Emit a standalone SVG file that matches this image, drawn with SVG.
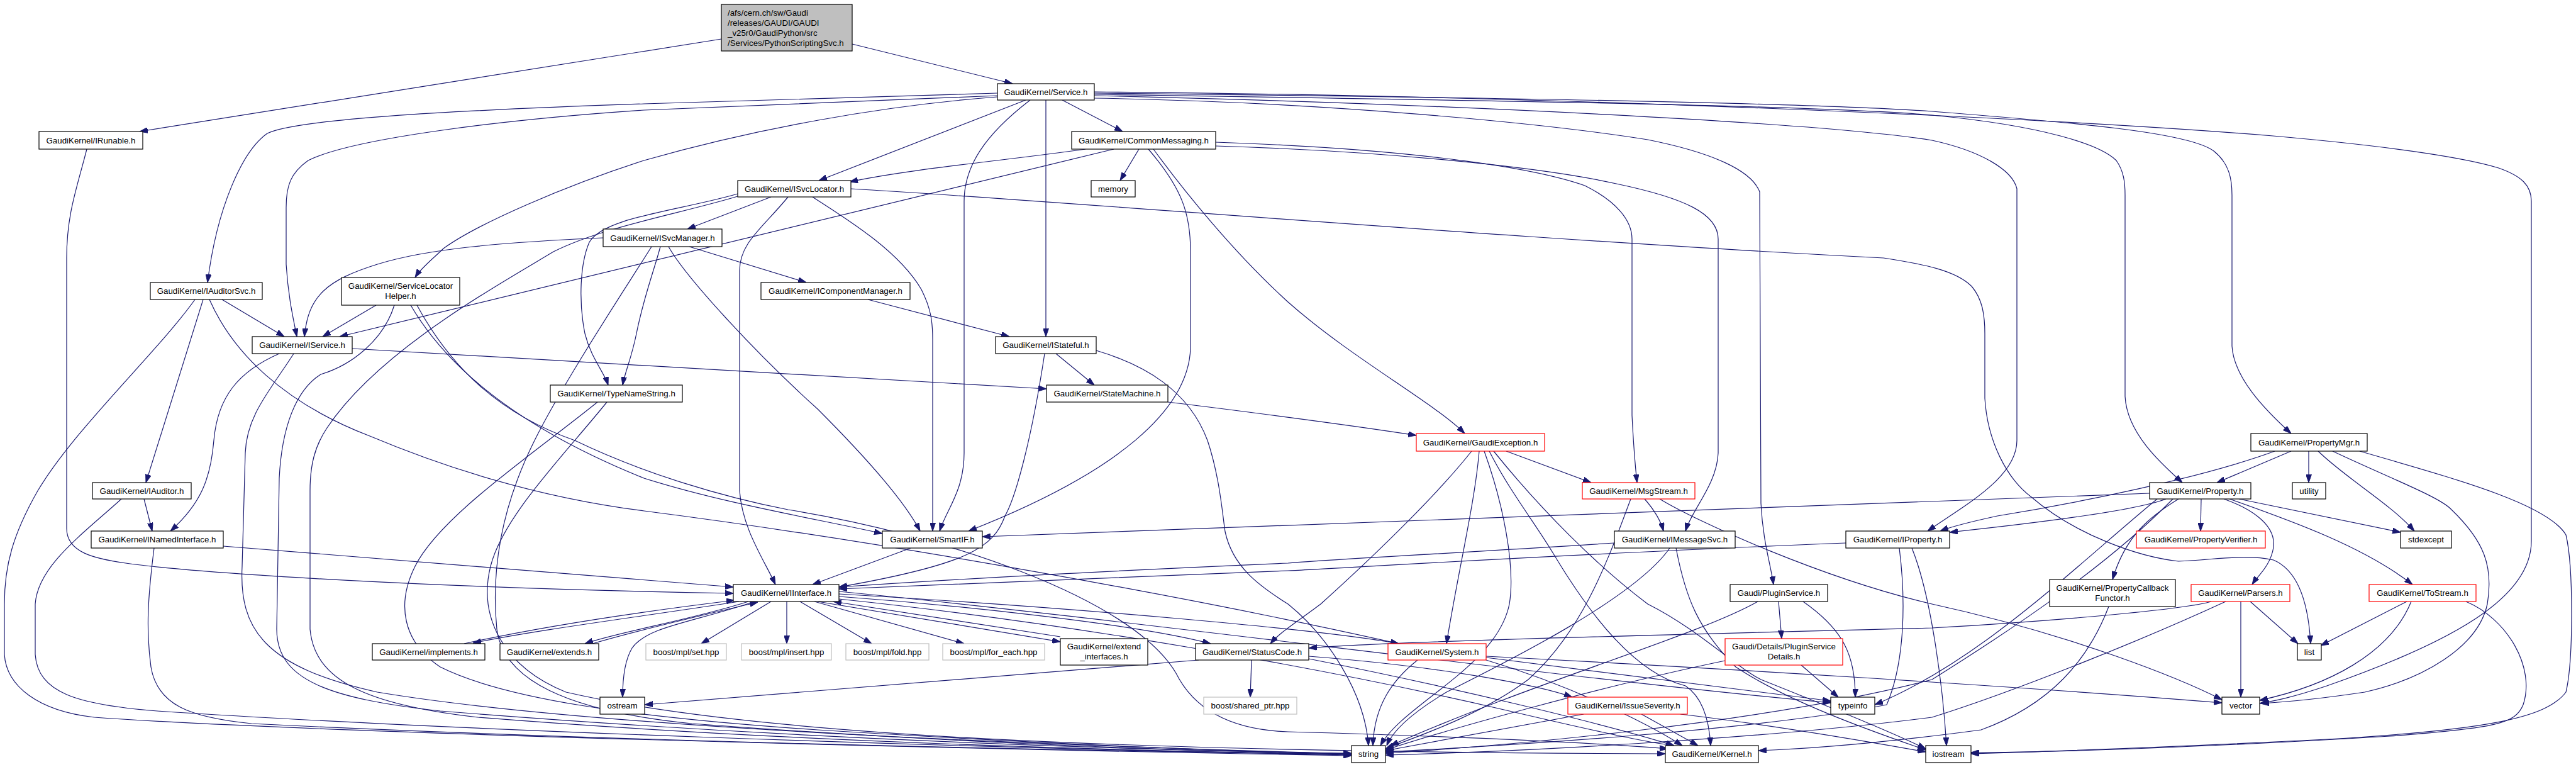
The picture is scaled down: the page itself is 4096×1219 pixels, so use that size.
<svg xmlns="http://www.w3.org/2000/svg" width="4096" height="1219" viewBox="0 0 4096 1219">
<style>
.node rect{fill:#fff;stroke:#000;stroke-width:1.2}
.red rect{stroke:#f00}
.grey rect{stroke:#bfbfbf}
.main rect{fill:#bfbfbf}
text{font-family:"Liberation Sans",Arial,Helvetica,sans-serif;font-size:13.3px;fill:#000;text-anchor:middle}
.main text{text-anchor:start}
#edges path{fill:none;stroke:#191970;stroke-width:1.2;marker-end:url(#arr)}
</style>
<defs>
<marker id="arr" viewBox="0 0 13 9" refX="13" refY="4.5" markerWidth="13" markerHeight="9" markerUnits="userSpaceOnUse" orient="auto">
<path d="M0,0 L13,4.5 L0,9 z" fill="#191970" stroke="#191970" stroke-width="1"/>
</marker>
</defs>
<rect width="4096" height="1219" fill="#fff"/>
<g id="edges">
<path d="M1147,62 L222,209"/>
<path d="M1355,70 L1610,133"/>
<path d="M138,237 C122,300 106,340 106,410 L106,840 C106,878 150,888 200,895 C320,912 700,935 1166,943"/>
<path d="M1586,152 C1300,165 1100,172 1024,175 C800,190 560,220 490,255 C462,275 455,295 455,330 L455,420 C458,470 466,505 472,535"/>
<path d="M1586,148 C1300,157 1100,163 1024,165 C700,176 470,190 425,212 C385,240 345,330 330,449"/>
<path d="M1586,154 C1400,168 1200,205 1024,255 C900,295 760,355 705,395 C690,410 670,425 660,441"/>
<path d="M1631,159 L1302,287"/>
<path d="M1689,159 L1785,209"/>
<path d="M1638,159 C1565,215 1533,265 1533,320 L1533,720 C1533,780 1505,810 1494,844"/>
<path d="M1663,159 L1663,535"/>
<path d="M1740,156 C2100,162 2450,195 2620,222 C2720,242 2785,270 2798,305 L2800,800 C2803,860 2815,895 2820,929"/>
<path d="M1740,152 C2300,165 2900,195 3072,223 C3150,240 3200,270 3207,300 L3207,700 C3207,760 3120,805 3065,844"/>
<path d="M1740,150 C2400,160 2900,168 3072,183 C3250,200 3340,230 3365,255 C3377,272 3379,290 3379,310 L3379,630 C3382,690 3440,740 3470,767"/>
<path d="M1740,148 C2400,155 2900,165 3072,177 C3300,195 3480,210 3520,240 C3545,260 3549,285 3549,310 L3549,550 C3552,600 3600,650 3643,689"/>
<path d="M1740,146 C2500,152 3300,190 3614,216 C3750,228 3900,245 3973,267 C4010,280 4025,295 4025,320 L4025,860 C4025,950 3900,1020 3700,1090 C3640,1110 3615,1114 3593,1118"/>
<path d="M1811,237 L1781,287"/>
<path d="M1726,237 C1600,255 1450,268 1351,289"/>
<path d="M1771,237 L540,535"/>
<path d="M1826,237 C1880,300 1893,340 1893,400 L1893,553 C1890,650 1780,750 1540,844"/>
<path d="M1834,237 C1880,300 1960,400 2048,480 C2150,570 2280,640 2329,689"/>
<path d="M1933,226 C2200,235 2420,260 2520,295 C2570,320 2595,350 2595,380 L2595,660 C2597,700 2600,740 2603,767"/>
<path d="M1933,232 C2200,240 2450,265 2570,292 C2680,315 2732,340 2732,380 L2732,720 C2730,770 2690,810 2680,844"/>
<path d="M1226,313 L1093,364"/>
<path d="M1173,308 C1080,335 960,345 937,385 C922,420 920,480 930,530 C940,570 960,590 967,612"/>
<path d="M1253,313 C1215,360 1176,385 1176,430 L1176,780 C1180,840 1215,890 1233,929"/>
<path d="M1292,313 C1350,350 1430,400 1465,460 C1480,490 1483,510 1483,540 L1483,844"/>
<path d="M1173,312 C1080,340 960,360 880,400 C780,460 600,560 520,680 C500,710 493,740 493,780 L493,1000 C500,1080 580,1120 760,1140 C1200,1175 1700,1192 2149,1199"/>
<path d="M1353,300 C1700,320 2400,380 2995,410 C3060,420 3110,430 3135,455 C3152,475 3156,500 3156,530 L3156,633 C3160,700 3190,760 3230,790 C3300,850 3400,885 3464,892 C3520,890 3570,880 3615,890 C3650,905 3670,950 3674,1023"/>
<path d="M959,378 C800,385 680,395 600,420 C520,445 490,470 484,535"/>
<path d="M1096,392 L1282,449"/>
<path d="M1050,392 C1040,430 1024,470 1012,530 C1004,570 994,590 990,612"/>
<path d="M1063,392 C1090,440 1200,560 1300,650 C1380,730 1440,800 1463,844"/>
<path d="M1036,392 C1000,450 900,600 850,700 C800,800 780,900 790,1000 C800,1080 900,1130 1100,1150 C1500,1180 1900,1195 2149,1197"/>
<path d="M1380,476 L1605,535"/>
<path d="M1679,562 L1740,612"/>
<path d="M1661,562 C1640,700 1615,790 1598,820 C1580,870 1540,897 1334,933"/>
<path d="M1743,557 C1820,580 1890,620 1920,700 C1940,760 1944,820 1948,845 C1960,900 2000,930 2048,960 C2110,1010 2170,1100 2176,1185"/>
<path d="M1857,639 C1950,650 2150,676 2252,692"/>
<path d="M560,554 L1664,618"/>
<path d="M444,562 C380,590 346,630 340,700 C335,760 320,800 271,844"/>
<path d="M467,562 C430,620 392,660 390,720 L385,900 C380,1000 420,1060 600,1100 C900,1150 1500,1180 2149,1198"/>
<path d="M353,476 L452,535"/>
<path d="M323,476 L232,767"/>
<path d="M310,476 C250,560 120,680 60,780 C20,850 7,900 7,960 L7,1040 C10,1090 60,1130 150,1140 C500,1165 1500,1190 2149,1201"/>
<path d="M333,476 C370,560 450,640 588,693 C700,740 850,790 1024,812 C1400,860 1900,950 2224,1023"/>
<path d="M229,793 L242,844"/>
<path d="M193,793 C130,850 60,900 56,960 L56,1040 C60,1100 120,1120 250,1130 C700,1160 1500,1188 2149,1200"/>
<path d="M355,868 L1166,933"/>
<path d="M245,871 C235,950 232,1000 240,1060 C250,1120 300,1140 400,1150 C900,1175 1600,1192 2149,1199"/>
<path d="M598,485 L513,535"/>
<path d="M627,485 C610,540 560,580 510,595 C470,620 448,680 444,760 L440,1000 C440,1080 520,1110 700,1130 C1200,1170 1700,1190 2149,1198"/>
<path d="M653,485 C720,600 850,690 1024,760 C1150,800 1300,825 1403,848"/>
<path d="M663,485 C720,590 800,660 914,700 C1024,753 1150,790 1253,810 C1500,850 1800,950 1870,1070 C1900,1130 1960,1160 2048,1163 C2300,1170 2500,1178 2652,1190"/>
<path d="M950,639 C850,720 700,820 660,900 C630,960 640,1020 700,1060 C800,1110 1000,1140 1300,1160 C1700,1185 2000,1195 2149,1198"/>
<path d="M965,639 C900,720 800,820 780,900 C760,980 800,1060 900,1100 C1200,1170 1800,1195 2648,1198"/>
<path d="M1448,871 L1292,929"/>
<path d="M1175,956 C1020,980 860,1000 752,1022"/>
<path d="M738,1023 C860,996 1020,972 1168,954"/>
<path d="M1190,956 C1100,985 980,1005 930,1023"/>
<path d="M942,1023 C1020,1000 1150,970 1205,957"/>
<path d="M1226,956 L1115,1023"/>
<path d="M1251,956 L1251,1023"/>
<path d="M1272,956 L1386,1023"/>
<path d="M1295,956 L1533,1023"/>
<path d="M1300,956 L1686,1020"/>
<path d="M1686,1012 L1325,956"/>
<path d="M1334,948 C1500,960 1800,990 1925,1023"/>
<path d="M1334,944 C1700,965 2100,1000 2224,1023"/>
<path d="M1200,956 C1100,990 1030,995 1005,1030 C993,1050 990,1080 990,1108"/>
<path d="M1334,952 C1700,990 2100,1060 2400,1130 C2550,1165 2620,1180 2662,1185"/>
<path d="M1334,940 C1800,985 2500,1080 2911,1117"/>
<path d="M1906,1049 L1025,1120"/>
<path d="M1990,1049 L1988,1108"/>
<path d="M2081,1043 C2300,1060 2450,1090 2500,1108"/>
<path d="M2081,1047 C2300,1090 2550,1150 2662,1185"/>
<path d="M2254,1049 C2215,1080 2185,1120 2183,1185"/>
<path d="M2363,1045 L2911,1114"/>
<path d="M2363,1049 C2500,1090 2620,1150 2675,1185"/>
<path d="M2363,1043 C2700,1060 3200,1090 3533,1117"/>
<path d="M2340,717 C2290,780 2200,870 2100,960 C2060,990 2035,1005 2020,1023"/>
<path d="M2352,717 C2345,800 2320,900 2300,1023"/>
<path d="M2360,717 C2390,800 2410,900 2400,960 C2380,1060 2230,1120 2195,1185"/>
<path d="M2368,717 C2400,780 2440,830 2470,880 C2530,980 2600,1070 2680,1090 C2710,1110 2718,1150 2720,1185"/>
<path d="M2375,717 C2450,810 2540,900 2620,960 C2700,1000 2760,1060 2800,1080 C2900,1120 3000,1160 3062,1190"/>
<path d="M2395,717 L2530,767"/>
<path d="M2615,793 C2630,810 2640,825 2645,844"/>
<path d="M2593,793 C2560,880 2520,1000 2430,1080 C2350,1140 2240,1175 2203,1190"/>
<path d="M2639,793 C2700,830 2900,920 3072,960 C3300,1010 3470,1080 3533,1112"/>
<path d="M2567,863 C2300,880 2100,890 2048,895 C1700,910 1450,925 1334,933"/>
<path d="M2655,871 C2600,950 2400,1050 2300,1100 C2250,1130 2215,1160 2205,1185"/>
<path d="M2665,871 C2680,950 2700,1000 2760,1060 C2850,1120 3000,1170 3062,1192"/>
<path d="M2935,863 C2500,880 2100,905 2048,907 C1700,920 1450,930 1334,936"/>
<path d="M3020,871 C3030,950 3030,1050 3000,1120 C2800,1160 2400,1185 2203,1195"/>
<path d="M3040,871 C3072,950 3090,1100 3095,1185"/>
<path d="M2828,956 L2833,1015"/>
<path d="M2867,956 C2930,1000 2950,1040 2950,1108"/>
<path d="M2795,956 C2700,1010 2450,1080 2211,1185"/>
<path d="M2864,1057 L2923,1108"/>
<path d="M2743,1050 C2550,1090 2300,1160 2203,1192"/>
<path d="M2518,1135 L2203,1193"/>
<path d="M2610,1135 L2700,1185"/>
<path d="M2672,1135 C2800,1150 2950,1175 3062,1195"/>
<path d="M3418,784 C3200,795 2500,815 1562,853"/>
<path d="M3444,793 C3400,810 3250,830 3100,846"/>
<path d="M3500,793 L3499,844"/>
<path d="M3464,793 C3420,820 3380,850 3359,921"/>
<path d="M3536,793 C3570,805 3620,830 3615,870 C3610,900 3590,915 3581,929"/>
<path d="M3545,793 C3650,830 3760,870 3836,929"/>
<path d="M3560,793 L3817,846"/>
<path d="M3455,793 C3350,900 3200,1000 3072,1080 C2800,1150 2400,1185 2203,1197"/>
<path d="M3430,793 C3300,900 3150,1050 2981,1120"/>
<path d="M3617,717 C3500,760 3300,800 3176,820 C3130,830 3100,838 3085,844"/>
<path d="M3643,717 L3525,767"/>
<path d="M3671,717 L3671,767"/>
<path d="M3686,717 C3730,760 3800,800 3839,844"/>
<path d="M3709,717 C3800,760 3880,790 3898,810 C3950,860 3965,900 3955,960 C3940,1030 3850,1080 3760,1100 C3680,1112 3630,1116 3595,1118"/>
<path d="M3752,717 C3900,760 4050,800 4080,850 C4092,900 4092,1050 4080,1100 C4050,1140 3960,1160 3700,1175 C3400,1190 3200,1196 3134,1198"/>
<path d="M3516,956 C3480,967 3300,985 3072,998 C2600,1010 2200,1020 2081,1030"/>
<path d="M3539,956 C3400,1020 3200,1100 3072,1140 C2800,1175 2400,1195 2203,1200"/>
<path d="M3563,956 L3563,1108"/>
<path d="M3578,956 L3654,1023"/>
<path d="M3827,956 L3690,1026"/>
<path d="M3834,956 C3800,1040 3700,1090 3593,1113"/>
<path d="M3921,956 C3986,983 4032,1060 4012,1120 C4000,1150 3970,1157 3800,1170 C3500,1188 3250,1196 3134,1196"/>
<path d="M3353,964 C3320,1050 3260,1120 3150,1160 C3000,1180 2880,1190 2796,1193"/>
</g>
<g id="n-main" class="node main"><rect x="1147" y="7" width="208" height="74"/><text x="1157" y="25">/afs/cern.ch/sw/Gaudi</text><text x="1157" y="41">/releases/GAUDI/GAUDI</text><text x="1157" y="57">_v25r0/GaudiPython/src</text><text x="1157" y="73">/Services/PythonScriptingSvc.h</text></g>
<g id="n-service" class="node"><rect x="1586" y="133" width="154" height="26"/><text x="1663" y="150.7">GaudiKernel/Service.h</text></g>
<g id="n-irunable" class="node"><rect x="62" y="209" width="165" height="28"/><text x="144.5" y="227.7">GaudiKernel/IRunable.h</text></g>
<g id="n-commonmessaging" class="node"><rect x="1704" y="209" width="229" height="28"/><text x="1818.5" y="227.7">GaudiKernel/CommonMessaging.h</text></g>
<g id="n-isvclocator" class="node"><rect x="1173" y="287" width="180" height="26"/><text x="1263" y="304.7">GaudiKernel/ISvcLocator.h</text></g>
<g id="n-memory" class="node"><rect x="1735" y="287" width="70" height="26"/><text x="1770" y="304.7">memory</text></g>
<g id="n-isvcmanager" class="node"><rect x="959" y="364" width="189" height="28"/><text x="1053.5" y="382.7">GaudiKernel/ISvcManager.h</text></g>
<g id="n-iauditorsvc" class="node"><rect x="239" y="449" width="178" height="27"/><text x="328" y="467.2">GaudiKernel/IAuditorSvc.h</text></g>
<g id="n-servicelocatorhelper" class="node"><rect x="543" y="441" width="188" height="44"/><text x="637" y="458.7">GaudiKernel/ServiceLocator</text><text x="637" y="474.7">Helper.h</text></g>
<g id="n-iservice" class="node"><rect x="401" y="535" width="159" height="27"/><text x="480.5" y="553.2">GaudiKernel/IService.h</text></g>
<g id="n-icomponentmanager" class="node"><rect x="1210" y="449" width="237" height="27"/><text x="1328.5" y="467.2">GaudiKernel/IComponentManager.h</text></g>
<g id="n-istateful" class="node"><rect x="1583" y="535" width="160" height="27"/><text x="1663" y="553.2">GaudiKernel/IStateful.h</text></g>
<g id="n-typenamestring" class="node"><rect x="875" y="612" width="210" height="27"/><text x="980" y="630.2">GaudiKernel/TypeNameString.h</text></g>
<g id="n-statemachine" class="node"><rect x="1664" y="612" width="193" height="27"/><text x="1760.5" y="630.2">GaudiKernel/StateMachine.h</text></g>
<g id="n-gaudiexception" class="node red"><rect x="2252" y="689" width="204" height="28"/><text x="2354" y="707.7">GaudiKernel/GaudiException.h</text></g>
<g id="n-propertymgr" class="node"><rect x="3579" y="689" width="185" height="28"/><text x="3671.5" y="707.7">GaudiKernel/PropertyMgr.h</text></g>
<g id="n-iauditor" class="node"><rect x="147" y="767" width="157" height="26"/><text x="225.5" y="784.7">GaudiKernel/IAuditor.h</text></g>
<g id="n-msgstream" class="node red"><rect x="2516" y="767" width="179" height="26"/><text x="2605.5" y="784.7">GaudiKernel/MsgStream.h</text></g>
<g id="n-property" class="node"><rect x="3418" y="767" width="161" height="26"/><text x="3498.5" y="784.7">GaudiKernel/Property.h</text></g>
<g id="n-utility" class="node"><rect x="3645" y="767" width="53" height="26"/><text x="3671.5" y="784.7">utility</text></g>
<g id="n-inamedinterface" class="node"><rect x="145" y="844" width="210" height="27"/><text x="250" y="862.2">GaudiKernel/INamedInterface.h</text></g>
<g id="n-smartif" class="node"><rect x="1403" y="844" width="159" height="27"/><text x="1482.5" y="862.2">GaudiKernel/SmartIF.h</text></g>
<g id="n-imessagesvc" class="node"><rect x="2567" y="844" width="192" height="27"/><text x="2663" y="862.2">GaudiKernel/IMessageSvc.h</text></g>
<g id="n-iproperty" class="node"><rect x="2935" y="844" width="165" height="27"/><text x="3017.5" y="862.2">GaudiKernel/IProperty.h</text></g>
<g id="n-propertyverifier" class="node red"><rect x="3397" y="844" width="205" height="27"/><text x="3499.5" y="862.2">GaudiKernel/PropertyVerifier.h</text></g>
<g id="n-stdexcept" class="node"><rect x="3817" y="844" width="81" height="27"/><text x="3857.5" y="862.2">stdexcept</text></g>
<g id="n-iinterface" class="node"><rect x="1166" y="929" width="168" height="27"/><text x="1250" y="947.2">GaudiKernel/IInterface.h</text></g>
<g id="n-pluginservice" class="node"><rect x="2751" y="929" width="155" height="27"/><text x="2828.5" y="947.2">Gaudi/PluginService.h</text></g>
<g id="n-propertycallbackfunctor" class="node"><rect x="3259" y="921" width="200" height="43"/><text x="3359" y="939.2">GaudiKernel/PropertyCallback</text><text x="3359" y="955.2">Functor.h</text></g>
<g id="n-parsers" class="node red"><rect x="3484" y="929" width="157" height="27"/><text x="3562.5" y="947.2">GaudiKernel/Parsers.h</text></g>
<g id="n-tostream" class="node red"><rect x="3767" y="929" width="170" height="27"/><text x="3852" y="947.2">GaudiKernel/ToStream.h</text></g>
<g id="n-implements" class="node"><rect x="592" y="1023" width="179" height="26"/><text x="681.5" y="1040.7">GaudiKernel/implements.h</text></g>
<g id="n-extends" class="node"><rect x="795" y="1023" width="157" height="26"/><text x="873.5" y="1040.7">GaudiKernel/extends.h</text></g>
<g id="n-mplset" class="node grey"><rect x="1027" y="1023" width="128" height="26"/><text x="1091" y="1040.7">boost/mpl/set.hpp</text></g>
<g id="n-mplinsert" class="node grey"><rect x="1179" y="1023" width="143" height="26"/><text x="1250.5" y="1040.7">boost/mpl/insert.hpp</text></g>
<g id="n-mplfold" class="node grey"><rect x="1345" y="1023" width="132" height="26"/><text x="1411" y="1040.7">boost/mpl/fold.hpp</text></g>
<g id="n-mplforeach" class="node grey"><rect x="1499" y="1023" width="162" height="26"/><text x="1580" y="1040.7">boost/mpl/for_each.hpp</text></g>
<g id="n-extendinterfaces" class="node"><rect x="1686" y="1015" width="139" height="42"/><text x="1755.5" y="1031.7">GaudiKernel/extend</text><text x="1755.5" y="1047.7">_interfaces.h</text></g>
<g id="n-statuscode" class="node"><rect x="1901" y="1023" width="180" height="26"/><text x="1991" y="1040.7">GaudiKernel/StatusCode.h</text></g>
<g id="n-system" class="node red"><rect x="2207" y="1023" width="156" height="26"/><text x="2285" y="1040.7">GaudiKernel/System.h</text></g>
<g id="n-pluginservicedetails" class="node red"><rect x="2743" y="1015" width="187" height="42"/><text x="2836.5" y="1031.7">Gaudi/Details/PluginService</text><text x="2836.5" y="1047.7">Details.h</text></g>
<g id="n-list" class="node"><rect x="3653" y="1023" width="38" height="26"/><text x="3672" y="1040.7">list</text></g>
<g id="n-ostream" class="node"><rect x="954" y="1108" width="71" height="27"/><text x="989.5" y="1126.2">ostream</text></g>
<g id="n-sharedptr" class="node grey"><rect x="1914" y="1108" width="148" height="27"/><text x="1988" y="1126.2">boost/shared_ptr.hpp</text></g>
<g id="n-issueseverity" class="node red"><rect x="2493" y="1108" width="190" height="27"/><text x="2588" y="1126.2">GaudiKernel/IssueSeverity.h</text></g>
<g id="n-typeinfo" class="node"><rect x="2911" y="1108" width="70" height="27"/><text x="2946" y="1126.2">typeinfo</text></g>
<g id="n-vector" class="node"><rect x="3533" y="1108" width="60" height="27"/><text x="3563" y="1126.2">vector</text></g>
<g id="n-string" class="node"><rect x="2149" y="1185" width="54" height="27"/><text x="2176" y="1203.2">string</text></g>
<g id="n-kernel" class="node"><rect x="2648" y="1185" width="148" height="27"/><text x="2722" y="1203.2">GaudiKernel/Kernel.h</text></g>
<g id="n-iostream" class="node"><rect x="3062" y="1185" width="72" height="27"/><text x="3098" y="1203.2">iostream</text></g>
</svg>
